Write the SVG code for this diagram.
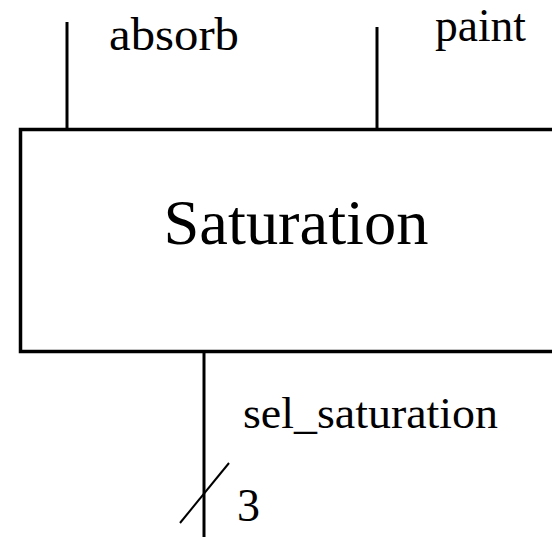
<svg xmlns="http://www.w3.org/2000/svg" width="552" height="537" viewBox="0 0 552 537">
<style>
.ln{stroke:#000;stroke-width:3;fill:none}
.t{font-family:"Liberation Serif","Times New Roman",serif;fill:#000}
</style>
<rect width="552" height="537" fill="#fff"/>
<g id="connectors">
<line class="ln" x1="67" y1="22" x2="67" y2="128"/>
<line class="ln" x1="377" y1="27" x2="377" y2="128"/>
<line class="ln" x1="204" y1="352" x2="204" y2="537"/>
<line class="ln" style="stroke-width:2" x1="180" y1="523" x2="229" y2="463"/>
<text class="t" x="109" y="50" font-size="46" textLength="130" lengthAdjust="spacingAndGlyphs">absorb</text>
<text class="t" x="435" y="41" font-size="46" textLength="91" lengthAdjust="spacingAndGlyphs">paint</text>
<text class="t" x="243" y="428" font-size="44" textLength="255" lengthAdjust="spacingAndGlyphs">sel_saturation</text>
<text class="t" x="237" y="521" font-size="46">3</text>
</g>
<g id="saturation">
<rect x="20.5" y="129.5" width="540" height="222" fill="none" stroke="#000" stroke-width="3.5"/>
<text class="t" x="296" y="244" font-size="63" text-anchor="middle" textLength="265" lengthAdjust="spacingAndGlyphs">Saturation</text>
</g>
</svg>
